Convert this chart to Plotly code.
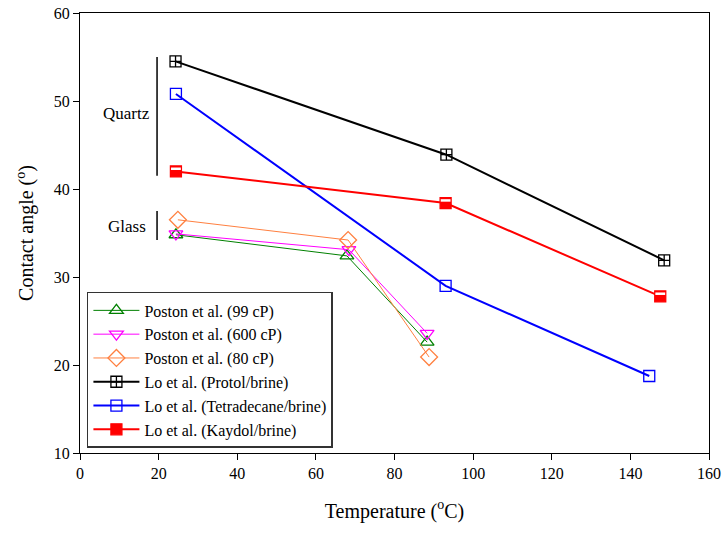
import plotly.graph_objects as go

# Contact angle vs temperature
poston99_T = [24.4, 67.9, 88.3]
poston99_A = [34.8, 32.4, 22.6]
poston600_T = [24.4, 68.4, 88.3]
poston600_A = [34.9, 33.1, 23.6]
poston80_T = [24.9, 68.2, 88.8]
poston80_A = [36.5, 34.2, 20.9]
protol_T = [24.3, 93.2, 148.6]
protol_A = [54.5, 43.9, 31.9]
tetra_T = [24.4, 93.0, 144.8]
tetra_A = [50.8, 29.0, 18.75]
kaydol_T = [24.4, 93.0, 147.6]
kaydol_A = [42.0, 38.4, 27.8]

# Bracket ranges for substrate groups
group_names = ["Quartz", "Glass"]
group_x = [19.6, 19.6]
group_lo = [41.5, 34.2]
group_hi = [55.0, 37.5]
group_label_x = [11.8, 12.0]
group_label_y = [48.6, 35.7]

FONT = "Liberation Serif, Times New Roman, serif"

fig = go.Figure()

def add_series(x, y, name, color, symbol, lw, size, fill=None):
    fig.add_trace(go.Scatter(
        x=x, y=y, name=name, mode="lines+markers",
        line=dict(color=color, width=lw),
        marker=dict(symbol=symbol, size=size, color=fill if fill else color,
                    line=dict(color=color, width=1.3)),
    ))

add_series(poston99_T, poston99_A, "Poston et al. (99 cP)", "#008000", "triangle-up-open", 1, 12)
add_series(poston600_T, poston600_A, "Poston et al. (600 cP)", "#ff00ff", "triangle-down-open", 1, 12)
add_series(poston80_T, poston80_A, "Poston et al. (80 cP)", "#ff8040", "diamond-open", 1, 13)
add_series(protol_T, protol_A, "Lo et al. (Protol/brine)", "#000000", "square-cross-open", 2, 11)
add_series(tetra_T, tetra_A, "Lo et al. (Tetradecane/brine)", "#0000ff", "square-open", 2, 11)
add_series(kaydol_T, kaydol_A, "Lo et al. (Kaydol/brine)", "#ff0000", "square", 2, 11)

# light band near the top of the Kaydol squares
fig.add_trace(go.Scatter(
    x=kaydol_T, y=[a + 0.3 for a in kaydol_A], mode="markers", showlegend=False,
    hoverinfo="skip",
    marker=dict(symbol="line-ew", size=7, line=dict(color="white", width=2.5)),
))

for name, gx, lo, hi, lx, ly in zip(group_names, group_x, group_lo, group_hi,
                                      group_label_x, group_label_y):
    fig.add_shape(type="line", x0=gx, x1=gx, y0=lo, y1=hi,
                  line=dict(color="black", width=1.5))
    fig.add_annotation(x=lx, y=ly, text=name, showarrow=False,
                       font=dict(family=FONT, size=17, color="black"))

fig.update_layout(
    width=722, height=535,
    margin=dict(l=80, r=13, t=13, b=82),
    paper_bgcolor="white", plot_bgcolor="white",
    font=dict(family=FONT, size=16, color="black"),
    showlegend=True,
    legend=dict(x=0.011, y=0.366, xanchor="left", yanchor="top",
                bgcolor="white", bordercolor="#333333", borderwidth=1.5,
                font=dict(family=FONT, size=16), tracegroupgap=0,
                itemwidth=46),
    xaxis=dict(range=[0, 160], tickvals=list(range(0, 161, 20)),
               ticks="outside", ticklen=6, tickwidth=1, tickcolor="black",
               showgrid=False, zeroline=False, showline=True, linecolor="black",
               linewidth=1, mirror=True, automargin=False,
               title=dict(text="Temperature (<sup>o</sup>C)", font=dict(size=20),
                          standoff=22),
               tickfont=dict(size=16)),
    yaxis=dict(range=[10, 60], tickvals=list(range(10, 61, 10)),
               ticks="outside", ticklen=6, tickwidth=1, tickcolor="black",
               showgrid=False, zeroline=False, showline=True, linecolor="black",
               linewidth=1, mirror=True, automargin=False,
               title=dict(text="Contact angle (<sup>o</sup>)", font=dict(size=20),
                          standoff=14),
               tickfont=dict(size=16)),
)

fig.write_html("out.html")
